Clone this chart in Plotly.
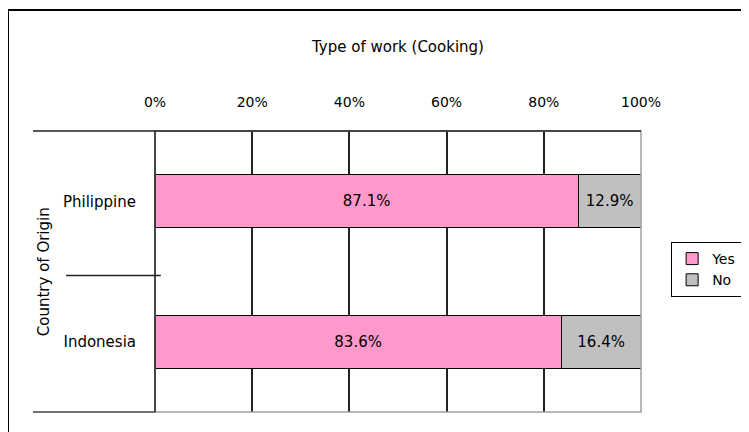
import plotly.graph_objects as go

countries = ["Philippine", "Indonesia"]
yes_share = [87.1, 83.6]
no_share = [12.9, 16.4]
tick_vals = [0, 20, 40, 60, 80, 100]
tick_text = ["0%", "20%", "40%", "60%", "80%", "100%"]

FONT = "DejaVu Sans, sans-serif"

fig = go.Figure()
fig.add_trace(go.Bar(
    y=countries, x=yes_share, name="Yes", orientation="h",
    marker=dict(color="#FF99CC", line=dict(color="#000000", width=1)),
    text=[f"{v:.1f}%" for v in yes_share], textposition="inside",
    insidetextanchor="middle", textfont=dict(color="#000000", size=15, family=FONT),
    width=0.38,
))
fig.add_trace(go.Bar(
    y=countries, x=no_share, name="No", orientation="h",
    marker=dict(color="#C0C0C0", line=dict(color="#000000", width=1)),
    text=[f"{v:.1f}%" for v in no_share], textposition="inside",
    insidetextanchor="middle", textfont=dict(color="#000000", size=15, family=FONT),
    width=0.38,
))

shapes = [
    # chart frame running off the picture
    dict(type="rect", xref="paper", yref="paper", x0=-0.3025, x1=1.3, y0=-0.2, y1=1.4306,
         line=dict(color="#000000", width=2), layer="below"),
    # plot border
    dict(type="rect", xref="paper", yref="paper", x0=0, x1=1, y0=0, y1=1,
         line=dict(color="#A0A0A0", width=1.5)),
    dict(type="line", xref="paper", yref="paper", x0=-0.251, x1=1, y0=1, y1=1,
         line=dict(color="#222222", width=1.5)),
    dict(type="line", xref="paper", yref="paper", x0=0, x1=0, y0=0, y1=1,
         line=dict(color="#222222", width=1.5)),
    # category group separators
    dict(type="line", xref="paper", yref="paper", x0=-0.251, x1=0.0, y0=0, y1=0,
         line=dict(color="#444444", width=1.5)),
    dict(type="line", xref="paper", yref="paper", x0=-0.183, x1=0.012, y0=0.486, y1=0.486,
         line=dict(color="#222222", width=1.5)),
]

fig.update_layout(
    width=770, height=432,
    margin=dict(l=147, r=137, t=123, b=28),
    paper_bgcolor="#FFFFFF", plot_bgcolor="#FFFFFF",
    barmode="stack", bargap=0.62,
    font=dict(family=FONT, size=14, color="#000000"),
    title=dict(text="Type of work (Cooking)", x=(390 / 770), xanchor="center",
               y=1 - 39 / 432, yanchor="middle", font=dict(size=15, family=FONT)),
    xaxis=dict(range=[0, 100], side="top", tickvals=tick_vals, ticktext=tick_text,
               showgrid=True, gridcolor="#222222", gridwidth=1.5, zeroline=False,
               showline=False, ticks="", ticklabelstandoff=20,
               tickfont=dict(size=14, family=FONT)),
    yaxis=dict(categoryorder="array", categoryarray=countries[::-1],
               showgrid=False, zeroline=False, showline=False, ticks="",
               ticklabelstandoff=18, tickfont=dict(size=15, family=FONT)),
    legend=dict(x=1.062, y=0.605, xanchor="left", yanchor="top",
                bordercolor="#000000", borderwidth=1, bgcolor="#FFFFFF",
                font=dict(size=14, family=FONT), traceorder="normal",
                itemwidth=30, tracegroupgap=0),
    shapes=shapes,
    annotations=[dict(text="Country of Origin", xref="paper", yref="paper",
                      x=-0.229, y=0.5, xanchor="center", yanchor="middle",
                      textangle=-90, showarrow=False,
                      font=dict(size=15, family=FONT))],
    showlegend=True,
)

fig.write_html("out.html")
